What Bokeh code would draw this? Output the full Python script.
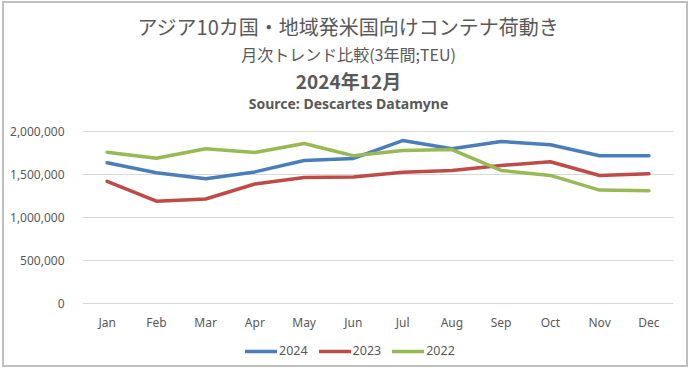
from bokeh.plotting import figure
from bokeh.models import (Label, Legend, LegendItem, FixedTicker, NumeralTickFormatter,
                          ColumnDataSource, Range1d)
from bokeh.embed import file_html
from bokeh.resources import INLINE

months = ["Jan", "Feb", "Mar", "Apr", "May", "Jun", "Jul", "Aug", "Sep", "Oct", "Nov", "Dec"]
teu_2024 = [1637000, 1520000, 1450000, 1530000, 1663000, 1687000, 1895000, 1800000, 1884000, 1845000, 1718000, 1718000]
teu_2023 = [1420000, 1190000, 1215000, 1390000, 1466000, 1470000, 1527000, 1547000, 1605000, 1648000, 1489000, 1509000]
teu_2022 = [1760000, 1690000, 1800000, 1756000, 1860000, 1718000, 1780000, 1790000, 1547000, 1489000, 1319000, 1311000]
series_names = ["2024", "2023", "2022"]
y_ticks = [0, 500000, 1000000, 1500000, 2000000]

title_lines = ["アジア10カ国・地域発米国向けコンテナ荷動き",
               "月次トレンド比較(3年間;TEU)",
               "2024年12月",
               "Source: Descartes Datamyne"]

colors = ["#4A7EBB", "#BE4B48", "#98B954"]
TXT = "#595959"
JP = "Noto Sans CJK JP"

# content box (inside a CSS border) spans window x 4..690, y 3..369
W, H = 686, 366
OX, OY = 4, 3
FL, FR = 82, 673          # plot area left/right (window px)
Y_TOP_PX, Y_ZERO_PX = 131, 303   # window px of 2,000,000 and 0
FT, FB = OY, OY + H       # frame spans the whole content height
per_px = 2000000 / (Y_ZERO_PX - Y_TOP_PX)
y_end = 2000000 + (Y_TOP_PX - FT) * per_px
y_start = -(FB - Y_ZERO_PX) * per_px

p = figure(x_range=months, y_range=Range1d(y_start, y_end), width=W, height=H,
           output_backend="svg", toolbar_location=None,
           min_border_left=FL - OX, min_border_right=(OX + W) - FR,
           min_border_top=0, min_border_bottom=0)
p.styles = {"border": "2px solid #bfbfbf", "margin-left": "2px", "margin-top": "1px"}
p.outline_line_color = None
p.background_fill_color = "white"
p.border_fill_color = "white"

src = ColumnDataSource(dict(m=months, a=teu_2024, b=teu_2023, c=teu_2022))
rs = []
for col, c in zip(["a", "b", "c"], colors):
    r = p.line("m", col, source=src, line_color=c, line_width=3.5, line_join="round", line_cap="round")
    rs.append(r)

p.xgrid.grid_line_color = None
p.ygrid.grid_line_color = "#d9d9d9"
p.ygrid.grid_line_width = 1
p.yaxis.ticker = FixedTicker(ticks=y_ticks)
p.yaxis.formatter = NumeralTickFormatter(format="0,0")
p.xaxis.fixed_location = 0
for ax in (p.xaxis[0], p.yaxis[0]):
    ax.axis_line_color = None
    ax.major_tick_line_color = None
    ax.minor_tick_line_color = None
    ax.major_label_text_color = TXT
    ax.major_label_text_font = "Noto Sans"
    ax.major_label_text_font_size = "12px"
p.yaxis.major_label_standoff = 12
p.xaxis.major_label_standoff = 4
p.x_range.range_padding = 0

legend = Legend(items=[LegendItem(label=n, renderers=[r]) for n, r in zip(series_names, rs)],
                orientation="horizontal", location=(245 - FL, FB - 359),
                glyph_width=32, glyph_height=16, label_height=16, label_standoff=2,
                spacing=11, padding=0, margin=0,
                border_line_alpha=0, background_fill_alpha=0,
                label_text_color=TXT, label_text_font="Noto Sans", label_text_font_size="12.5px")
p.add_layout(legend, "center")

specs = [(title_lines[0], 26, "20px", "normal", JP),
         (title_lines[1], 53, "16px", "normal", JP),
         (title_lines[2], 80, "19px", "bold", JP),
         (title_lines[3], 103, "14px", "bold", "Noto Sans")]
for txt, yc, fs, fw, fnt in specs:
    p.add_layout(Label(x=348 - FL, y=FB - yc, x_units="screen", y_units="screen", text=txt,
                       text_align="center", text_baseline="middle", text_color=TXT,
                       text_font=fnt, text_font_size=fs, text_font_style=fw))

open("out.html", "w").write(file_html(p, INLINE))
